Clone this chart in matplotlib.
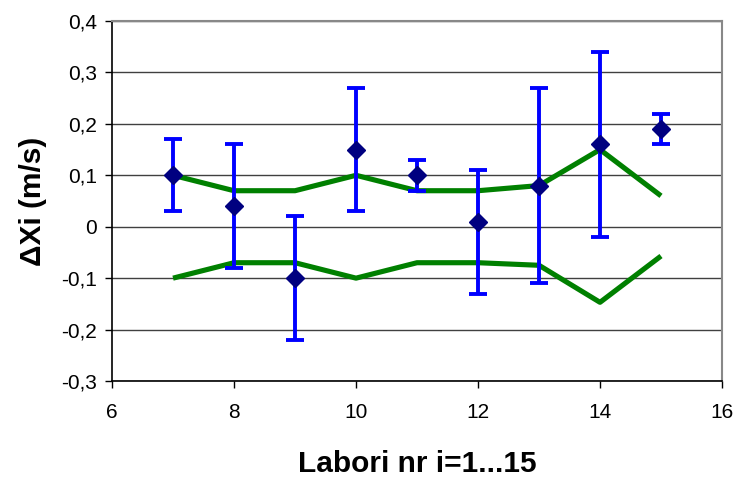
import matplotlib
matplotlib.use("Agg")
import matplotlib.pyplot as plt
from matplotlib.ticker import FuncFormatter, MultipleLocator

labs = [7, 8, 9, 10, 11, 12, 13, 14, 15]
dx = [0.10, 0.04, -0.10, 0.15, 0.10, 0.01, 0.08, 0.16, 0.19]
err_minus = [0.07, 0.12, 0.12, 0.12, 0.03, 0.14, 0.19, 0.18, 0.03]
err_plus = [0.07, 0.12, 0.12, 0.12, 0.03, 0.10, 0.19, 0.18, 0.03]
upper = [0.10, 0.07, 0.07, 0.10, 0.07, 0.07, 0.08, 0.15, 0.06]
lower = [-0.10, -0.07, -0.07, -0.10, -0.07, -0.07, -0.075, -0.147, -0.057]

plt.rcParams['font.family'] = ['Liberation Sans', 'DejaVu Sans']

fig = plt.figure(figsize=(7.39, 4.84), dpi=100)
ax = fig.add_axes([0.1516, 0.2128, 0.977 - 0.1516, 0.9566 - 0.2128])

ax.plot(labs, upper, color='#008000', lw=3.7, zorder=3, solid_capstyle='butt')
ax.plot(labs, lower, color='#008000', lw=3.7, zorder=3, solid_capstyle='butt')
ax.errorbar(labs, dx, yerr=[err_minus, err_plus], fmt='none', ecolor='#0000FF',
            elinewidth=2.8, capsize=6.5, capthick=2.8, zorder=4)
ax.plot(labs, dx, linestyle='none', marker='D', color='#000080', markersize=9, zorder=5)

ax.set_xlim(6, 16)
ax.set_ylim(-0.3, 0.4)
ax.xaxis.set_major_locator(MultipleLocator(2))
ax.yaxis.set_major_locator(MultipleLocator(0.1))
ax.yaxis.set_major_formatter(FuncFormatter(lambda v, p: '0' if abs(v) < 1e-9 else ('%.1f' % v).replace('.', ',')))
ax.grid(axis='y', color='#404040', lw=1)
ax.set_axisbelow(True)

for s in ['top', 'right']:
    ax.spines[s].set_color('#888888')
    ax.spines[s].set_linewidth(1.5)
for s in ['left', 'bottom']:
    ax.spines[s].set_color('black')
    ax.spines[s].set_linewidth(1.2)
ax.tick_params(direction='out', length=5, width=1, labelsize=15)
ax.tick_params(axis='y', pad=6)
ax.tick_params(axis='x', pad=11)

ax.set_xlabel('Labori nr i=1...15', fontsize=21.5, fontweight='bold', labelpad=20)
ax.set_ylabel('ΔXi (m/s)', fontsize=21.5, fontweight='bold', labelpad=10)

fig.savefig('out.png', dpi=100)
